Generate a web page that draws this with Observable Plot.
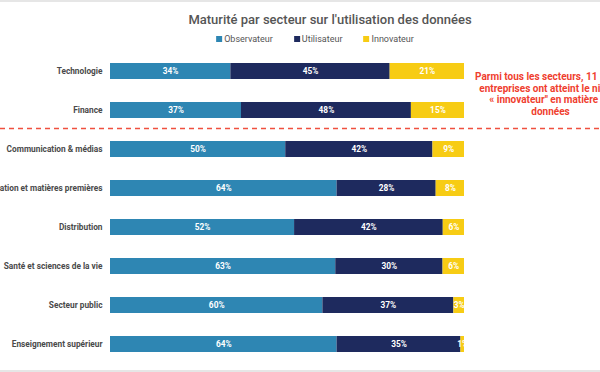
<!DOCTYPE html>
<html><head><meta charset="utf-8">
<script src="https://cdn.jsdelivr.net/npm/d3@7"></script>
<script src="https://cdn.jsdelivr.net/npm/@observablehq/plot@0.6"></script>
<style>
body{margin:0;width:600px;height:372px;overflow:hidden;background:#fff;font-family:Roboto,sans-serif;}
.band{height:2px;background:#e6e6e6}
#header{position:relative;height:46px}
#title{position:absolute;left:330px;top:10px;transform:translateX(-50%);white-space:nowrap;font-size:13px;line-height:15px;font-weight:500;color:#555}
#legend{position:absolute;left:315px;top:31px;transform:translateX(-50%);display:flex;gap:21px;white-space:nowrap;font-size:9px;line-height:12px;color:#555}
#legend span.sw{display:inline-block;width:6px;height:6px;margin-right:2px;vertical-align:0px}
#chart{height:322px}
</style>
</head><body>
<div class="band"></div>
<div id="header"><div id="title"></div><div id="legend"></div></div>
<div id="chart"></div>
<div class="band"></div>
<script>
const title = "Maturité par secteur sur l'utilisation des données";
const sectors = ["Technologie","Finance","Communication & médias","Fabrication et matières premières","Distribution","Santé et sciences de la vie","Secteur public","Enseignement supérieur"];
const levels = ["Observateur","Utilisateur","Innovateur"];
const colors = ["#2e86b3","#1e2a5e","#f7cc14"];
const observateur = [34,37,50,64,52,63,60,64];
const utilisateur = [45,48,42,28,42,30,37,35];
const innovateur = [21,15,9,8,6,6,3,1];
const annotation = "Parmi tous les secteurs, 11 % des\nentreprises ont atteint le niveau\n« innovateur\" en matière de\ndonnées";

document.getElementById("title").textContent = title;
const leg = document.getElementById("legend");
levels.forEach((l,i)=>{
  const d = document.createElement("div");
  const s = document.createElement("span"); s.className="sw"; s.style.background=colors[i];
  d.appendChild(s); d.appendChild(document.createTextNode(l)); leg.appendChild(d);
});

const series = [observateur, utilisateur, innovateur];
const table = [];
sectors.forEach((s,i)=>levels.forEach((l,j)=>table.push({sector:s, level:l, value:series[j][i]})));

const stack = {x:"value", y:"sector", z:"level", offset:"normalize"};
const plot = Plot.plot({
  width:600, height:322,
  marginLeft:110, marginRight:136, marginTop:2.8, marginBottom:6.6,
  style:{fontFamily:"Roboto, sans-serif", fontSize:"8px", color:"#444", overflow:"visible"},
  x:{domain:[0,1], axis:null},
  y:{domain:sectors, paddingInner:0.59, paddingOuter:0.295, label:null},
  color:{domain:levels, range:colors},
  marks:[
    Plot.axisY({tickSize:0, tickPadding:8, fontWeight:700, fontSize:8.3, label:null, fill:"#4a4a4a"}),
    Plot.barX(table, Plot.stackX({...stack, fill:"level"})),
    Plot.text(table, Plot.stackX({...stack, text:d=>d.value+"%", fill:"white", fontWeight:700, fontSize:8.3})),
    Plot.ruleY([sectors[2]], {dy:-21, stroke:"#f0503f", strokeWidth:1.5, strokeDasharray:"5,4", insetLeft:-110, insetRight:-136}),
    Plot.text([annotation], {frameAnchor:"top-right", dx:86, dy:21, lineAnchor:"top", textAnchor:"middle", fill:"#ef3e2f", fontWeight:700, fontSize:10, lineHeight:1.15})
  ]
});
document.getElementById("chart").appendChild(plot);
</script>
</body></html>
